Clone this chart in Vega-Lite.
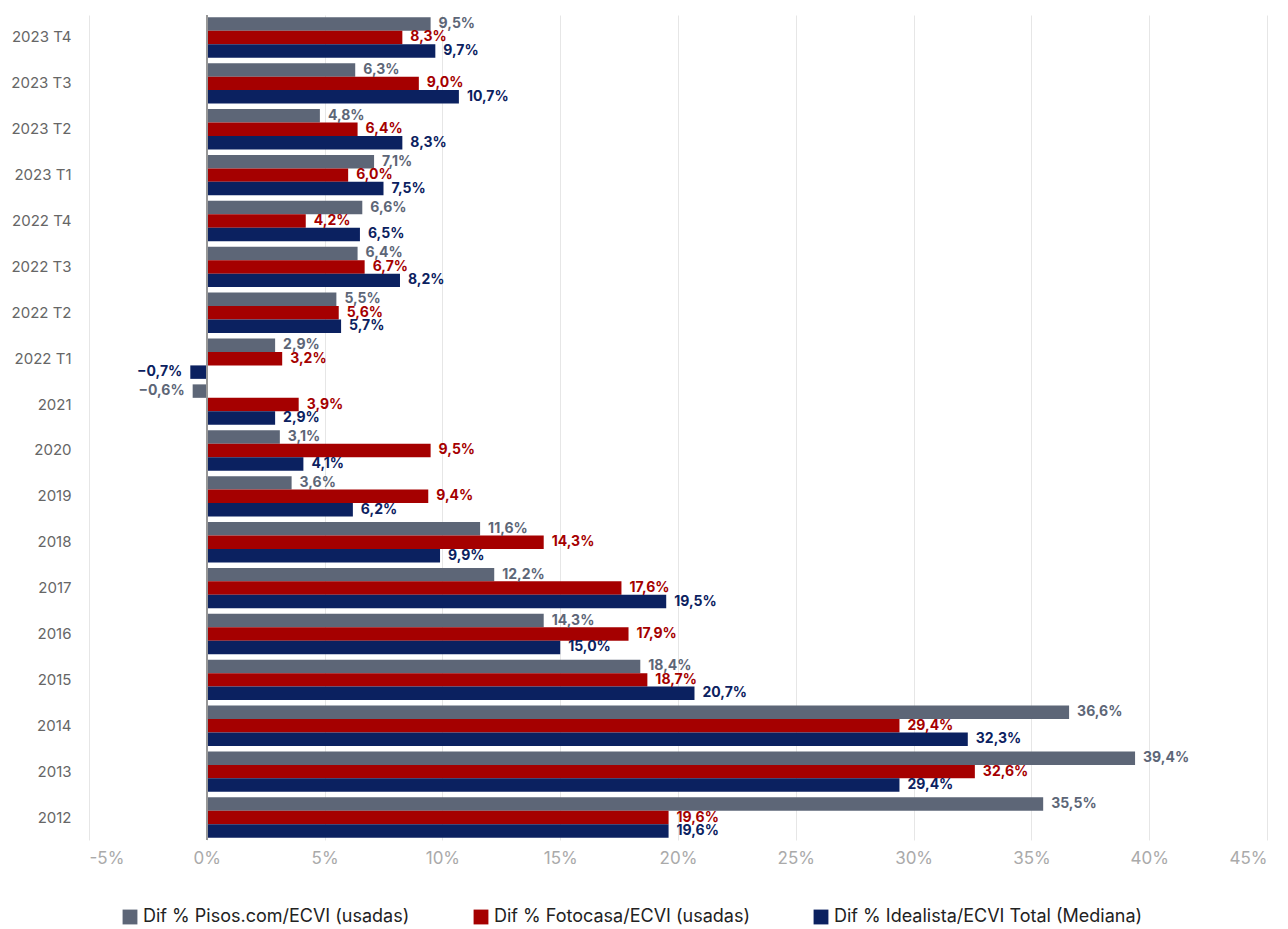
{
"$schema":"https://vega.github.io/schema/vega-lite/v6.json",
"width":1178,"height":825,
"padding":{"left":10,"top":14,"right":20,"bottom":5},
"config":{"font":"Inter","view":{"stroke":null},"axis":{"labelFont":"Inter"},"legend":{"labelFont":"Inter"}},
"data":{"values":[
{"p":"2023 T4","s":"Dif % Pisos.com/ECVI (usadas)","v":9.5},{"p":"2023 T4","s":"Dif % Fotocasa/ECVI (usadas)","v":8.3},{"p":"2023 T4","s":"Dif % Idealista/ECVI Total (Mediana)","v":9.7},
{"p":"2023 T3","s":"Dif % Pisos.com/ECVI (usadas)","v":6.3},{"p":"2023 T3","s":"Dif % Fotocasa/ECVI (usadas)","v":9.0},{"p":"2023 T3","s":"Dif % Idealista/ECVI Total (Mediana)","v":10.7},
{"p":"2023 T2","s":"Dif % Pisos.com/ECVI (usadas)","v":4.8},{"p":"2023 T2","s":"Dif % Fotocasa/ECVI (usadas)","v":6.4},{"p":"2023 T2","s":"Dif % Idealista/ECVI Total (Mediana)","v":8.3},
{"p":"2023 T1","s":"Dif % Pisos.com/ECVI (usadas)","v":7.1},{"p":"2023 T1","s":"Dif % Fotocasa/ECVI (usadas)","v":6.0},{"p":"2023 T1","s":"Dif % Idealista/ECVI Total (Mediana)","v":7.5},
{"p":"2022 T4","s":"Dif % Pisos.com/ECVI (usadas)","v":6.6},{"p":"2022 T4","s":"Dif % Fotocasa/ECVI (usadas)","v":4.2},{"p":"2022 T4","s":"Dif % Idealista/ECVI Total (Mediana)","v":6.5},
{"p":"2022 T3","s":"Dif % Pisos.com/ECVI (usadas)","v":6.4},{"p":"2022 T3","s":"Dif % Fotocasa/ECVI (usadas)","v":6.7},{"p":"2022 T3","s":"Dif % Idealista/ECVI Total (Mediana)","v":8.2},
{"p":"2022 T2","s":"Dif % Pisos.com/ECVI (usadas)","v":5.5},{"p":"2022 T2","s":"Dif % Fotocasa/ECVI (usadas)","v":5.6},{"p":"2022 T2","s":"Dif % Idealista/ECVI Total (Mediana)","v":5.7},
{"p":"2022 T1","s":"Dif % Pisos.com/ECVI (usadas)","v":2.9},{"p":"2022 T1","s":"Dif % Fotocasa/ECVI (usadas)","v":3.2},{"p":"2022 T1","s":"Dif % Idealista/ECVI Total (Mediana)","v":-0.7},
{"p":"2021","s":"Dif % Pisos.com/ECVI (usadas)","v":-0.6},{"p":"2021","s":"Dif % Fotocasa/ECVI (usadas)","v":3.9},{"p":"2021","s":"Dif % Idealista/ECVI Total (Mediana)","v":2.9},
{"p":"2020","s":"Dif % Pisos.com/ECVI (usadas)","v":3.1},{"p":"2020","s":"Dif % Fotocasa/ECVI (usadas)","v":9.5},{"p":"2020","s":"Dif % Idealista/ECVI Total (Mediana)","v":4.1},
{"p":"2019","s":"Dif % Pisos.com/ECVI (usadas)","v":3.6},{"p":"2019","s":"Dif % Fotocasa/ECVI (usadas)","v":9.4},{"p":"2019","s":"Dif % Idealista/ECVI Total (Mediana)","v":6.2},
{"p":"2018","s":"Dif % Pisos.com/ECVI (usadas)","v":11.6},{"p":"2018","s":"Dif % Fotocasa/ECVI (usadas)","v":14.3},{"p":"2018","s":"Dif % Idealista/ECVI Total (Mediana)","v":9.9},
{"p":"2017","s":"Dif % Pisos.com/ECVI (usadas)","v":12.2},{"p":"2017","s":"Dif % Fotocasa/ECVI (usadas)","v":17.6},{"p":"2017","s":"Dif % Idealista/ECVI Total (Mediana)","v":19.5},
{"p":"2016","s":"Dif % Pisos.com/ECVI (usadas)","v":14.3},{"p":"2016","s":"Dif % Fotocasa/ECVI (usadas)","v":17.9},{"p":"2016","s":"Dif % Idealista/ECVI Total (Mediana)","v":15.0},
{"p":"2015","s":"Dif % Pisos.com/ECVI (usadas)","v":18.4},{"p":"2015","s":"Dif % Fotocasa/ECVI (usadas)","v":18.7},{"p":"2015","s":"Dif % Idealista/ECVI Total (Mediana)","v":20.7},
{"p":"2014","s":"Dif % Pisos.com/ECVI (usadas)","v":36.6},{"p":"2014","s":"Dif % Fotocasa/ECVI (usadas)","v":29.4},{"p":"2014","s":"Dif % Idealista/ECVI Total (Mediana)","v":32.3},
{"p":"2013","s":"Dif % Pisos.com/ECVI (usadas)","v":39.4},{"p":"2013","s":"Dif % Fotocasa/ECVI (usadas)","v":32.6},{"p":"2013","s":"Dif % Idealista/ECVI Total (Mediana)","v":29.4},
{"p":"2012","s":"Dif % Pisos.com/ECVI (usadas)","v":35.5},{"p":"2012","s":"Dif % Fotocasa/ECVI (usadas)","v":19.6},{"p":"2012","s":"Dif % Idealista/ECVI Total (Mediana)","v":19.6}
]},
"encoding":{
"y":{"field":"p","type":"nominal","sort":null,"scale":{"paddingInner":0.12,"paddingOuter":0.05},"axis":{"title":null,"domain":false,"ticks":false,"labelColor":"#666","labelFontSize":15,"labelPadding":18}},
"yOffset":{"field":"s","type":"nominal","sort":["Dif % Pisos.com/ECVI (usadas)","Dif % Fotocasa/ECVI (usadas)","Dif % Idealista/ECVI Total (Mediana)"]},
"x":{"field":"v","type":"quantitative","scale":{"domain":[-5,45],"nice":false},"axis":{"title":null,"values":[-5,0,5,10,15,20,25,30,35,40,45],"labelExpr":"datum.value + '%'","labelColor":"#aaa","labelFontSize":17,"grid":true,"gridColor":"#e6e6e6","domain":false,"ticks":false,"labelPadding":10}},
"color":{"field":"s","type":"nominal","sort":["Dif % Pisos.com/ECVI (usadas)","Dif % Fotocasa/ECVI (usadas)","Dif % Idealista/ECVI Total (Mediana)"],"scale":{"range":["#5d6677","#a50000","#0b2160"]},"legend":{"title":null,"orient":"none","legendX":32,"legendY":893,"direction":"horizontal","symbolType":"square","symbolSize":220,"labelFontSize":18,"labelColor":"#222","columnPadding":62,"labelLimit":400}}
},
"layer":[
{"mark":{"type":"bar"}},
{"mark":{"type":"rule","color":"#999","strokeWidth":1.5},"encoding":{"x":{"datum":0},"y":{},"yOffset":{},"color":{"value":"#999"}}},
{"transform":[{"filter":"datum.v>=0"}],"mark":{"type":"text","align":"left","dx":8,"fontWeight":"bold","fontSize":14},"encoding":{"text":{"field":"lbl"}}},
{"transform":[{"filter":"datum.v<0"}],"mark":{"type":"text","align":"right","dx":-8,"fontWeight":"bold","fontSize":14},"encoding":{"text":{"field":"lbl"}}}
],
"transform":[{"calculate":"replace(format(datum.v,'.1f'),'.',',') + '%'","as":"lbl"}]
}
